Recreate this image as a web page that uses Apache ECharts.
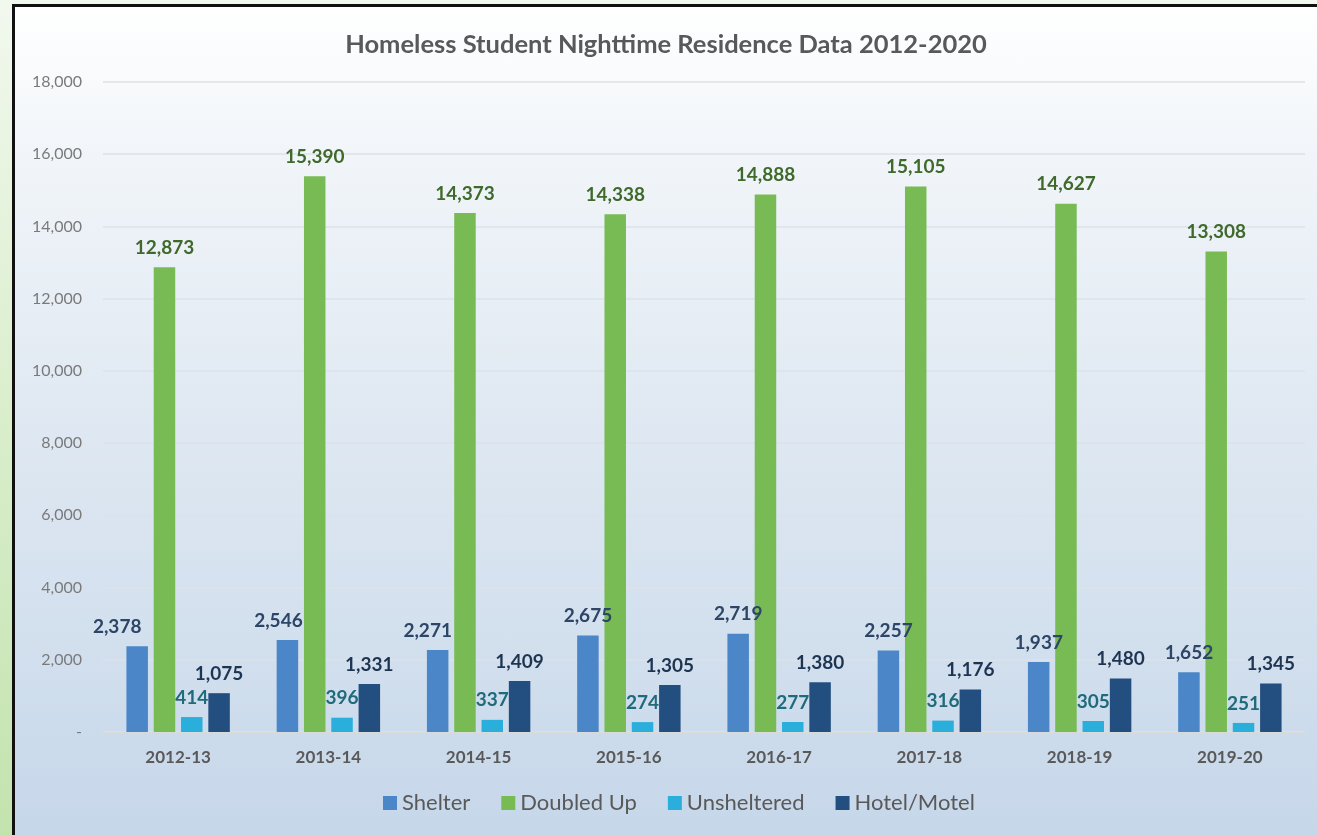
<!DOCTYPE html>
<html>
<head>
<meta charset="utf-8">
<script src="https://cdn.jsdelivr.net/npm/echarts@6/dist/echarts.min.js"></script>
<style>
  html, body { margin: 0; padding: 0; width: 1317px; height: 835px; overflow: hidden; }
  body { background: linear-gradient(180deg, #f2f8ee 0%, #dcefcf 45%, #c3e3ae 100%); position: relative; }
  #frame {
    position: absolute; left: 12px; top: 4px; right: 0; bottom: 0;
    border-left: 3px solid #111; border-top: 3px solid #111;
    background: linear-gradient(180deg, #ffffff 0%, #f1f5f9 18%, #e2eaf3 45%, #d3e0ee 75%, #c6d7ea 100%);
  }
  #chart { position: absolute; left: 0; top: 0; width: 1302px; height: 828px; }
</style>
</head>
<body>
<div id="frame"><div id="chart"></div></div>
<script>
// School years shown on the category axis
const years = ['2012-13', '2013-14', '2014-15', '2015-16', '2016-17', '2017-18', '2018-19', '2019-20'];

// Nighttime residence counts per year
const shelter     = [2378, 2546, 2271, 2675, 2719, 2257, 1937, 1652];
const doubledUp   = [12873, 15390, 14373, 14338, 14888, 15105, 14627, 13308];
const unsheltered = [414, 396, 337, 274, 277, 316, 305, 251];
const hotelMotel  = [1075, 1331, 1409, 1305, 1380, 1176, 1480, 1345];

// Value axis ticks
const yTicks = [0, 2000, 4000, 6000, 8000, 10000, 12000, 14000, 16000, 18000];

// Horizontal nudges for the first Shelter labels so they clear the green bars
const shelterLabelShift = [-20, -9, -10, 0, 0, 0, 0, 0];

const FONT = 'Lato, "Open Sans", sans-serif';
const fmt = v => v.toLocaleString('en-US');

function barSeries(name, values, color, labelColor, shifts) {
  return {
    name: name,
    type: 'bar',
    barWidth: 21.5,
    barGap: '27%',
    itemStyle: { color: color },
    data: values.map((v, i) => ({
      value: v,
      label: shifts ? { offset: [shifts[i], 0] } : undefined
    })),
    label: {
      show: true,
      position: 'top',
      distance: 10,
      formatter: p => fmt(p.value),
      color: labelColor,
      fontFamily: FONT,
      fontWeight: 'bold',
      fontSize: 19
    }
  };
}

const chart = echarts.init(document.getElementById('chart'), null, { renderer: 'canvas' });
chart.setOption({
  backgroundColor: 'transparent',
  animation: false,
  title: {
    text: 'Homeless Student Nighttime Residence Data 2012-2020',
    left: 'center',
    top: 20,
    textStyle: { fontFamily: FONT, fontWeight: 'bold', fontSize: 25.5, color: '#595959' }
  },
  legend: {
    bottom: 16,
    left: 363,
    itemWidth: 14,
    itemHeight: 14,
    itemGap: 31,
    icon: 'rect',
    textStyle: { fontFamily: FONT, fontSize: 22, color: '#595959' },
    data: ['Shelter', 'Doubled Up', 'Unsheltered', 'Hotel/Motel']
  },
  grid: { left: 88, right: 12, top: 75, bottom: 103 },
  xAxis: {
    type: 'category',
    data: years,
    axisLine: { show: true, lineStyle: { color: '#d9dcd6', width: 1 } },
    axisTick: { show: false },
    axisLabel: { margin: 17, fontFamily: FONT, fontWeight: 'bold', fontSize: 17, color: '#595959' }
  },
  yAxis: {
    type: 'value',
    min: yTicks[0],
    max: yTicks[yTicks.length - 1],
    interval: yTicks[1] - yTicks[0],
    axisLine: { show: false },
    axisTick: { show: false },
    splitLine: { lineStyle: { color: '#dde2e7', width: 1.5 } },
    axisLabel: {
      margin: 21,
      fontFamily: FONT,
      fontSize: 16,
      color: '#7a7a7a',
      formatter: v => (v === 0 ? '-' : fmt(v))
    }
  },
  series: [
    barSeries('Shelter', shelter, '#4a86c8', '#2d4566', shelterLabelShift),
    barSeries('Doubled Up', doubledUp, '#78bb55', '#3f6a2b'),
    barSeries('Unsheltered', unsheltered, '#2aafdc', '#1f6b7b'),
    barSeries('Hotel/Motel', hotelMotel, '#234f80', '#1e3552')
  ]
});
</script>
</body>
</html>
